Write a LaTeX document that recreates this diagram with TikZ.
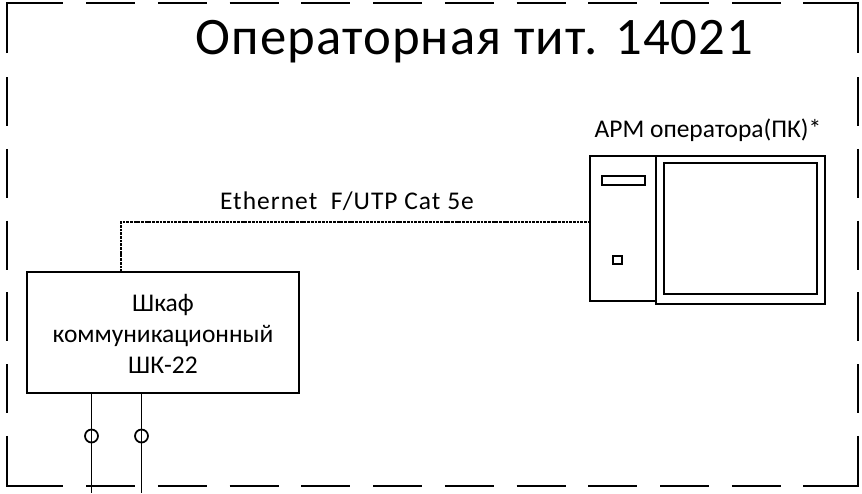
\documentclass[tikz,border=0pt]{standalone}
\usepackage{fontspec}
\setmainfont{Carlito}
\usepackage{xcolor}
\usetikzlibrary{positioning, calc}

\begin{document}
\begin{tikzpicture}[
    device/.style={rectangle, draw, line width=1pt, inner sep=0pt, align=center},
    label/.style={anchor=base, inner sep=0pt, font=\fontsize{14.5}{14.5}\selectfont},
    frameline/.style={line width=1pt},
    framedash/.style={line width=1pt, dash pattern=on 0.98cm off 0.455cm},
    cable/.style={line width=0.6pt, dash pattern=on 1.6pt off 0.5pt},
    wire/.style={line width=1pt}
]
\useasboundingbox (0, 0) rectangle (17.24, 9.86);

% room boundary
\coordinate (tl) at (0.14, 9.8);
\coordinate (tr) at (17.16, 9.8);
\coordinate (bl) at (0.14, 0.14);
\coordinate (br) at (17.16, 0.14);
\draw[frameline] (0.14, 8.8) -- (tl) -- (1.26, 9.8);
\draw[frameline] (16.06, 9.8) -- (tr) -- (17.16, 8.8);
\draw[frameline] (0.14, 1.14) -- (bl) -- (1.26, 0.14);
\draw[frameline] (16.06, 0.14) -- (br) -- (17.16, 1.14);
\draw[framedash] (1.72, 9.8) -- (16.06, 9.8);
\draw[framedash] (1.72, 0.14) -- (16.06, 0.14);
\draw[framedash] (0.14, 8.32) -- (0.14, 1.14);
\draw[framedash] (17.16, 8.32) -- (17.16, 1.14);

\node[anchor=base, inner sep=0pt, font=\fontsize{30}{30}\selectfont\addfontfeatures{LetterSpace=2}] (title) at (9.49, 8.78) {Операторная тит. 14021};

% cabinet
\node[device, minimum width=5.44cm, minimum height=2.42cm] (cabinet) at (3.26, 3.21) {};
\node[label] (cabinetA) at (3.26, 3.64) {Шкаф};
\node[label] (cabinetB) at (3.26, 3.02) {коммуникационный};
\node[label] (cabinetC) at (3.26, 2.4) {ШК-22};

% workstation
\node[device, line width=0.8pt, minimum width=1.32cm, minimum height=2.9cm] (tower) at (12.46, 5.29) {};
\node[device, minimum width=3.38cm, minimum height=2.96cm] (monitor) at (14.81, 5.26) {};
\node[device, minimum width=3.06cm, minimum height=2.62cm] (screen) at (14.81, 5.29) {};
\node[device, minimum width=0.86cm, minimum height=0.18cm] (slot) at (12.47, 6.25) {};
\node[device, minimum width=0.18cm, minimum height=0.16cm] (button) at (12.35, 4.66) {};
\node[label] (pclabel) at (14.16, 7.12) {АРМ оператора(ПК)*};

% ethernet
\coordinate (portA) at (2.42, 4.42);
\coordinate (portB) at (11.8, 5.42);
\draw[cable] (portA) |- (portB);
\node[label, font=\fontsize{14.5}{14.5}\selectfont\addfontfeatures{LetterSpace=4}] (netlabel) at (6.94, 5.68) {Ethernet\ \ F/UTP Cat 5e};

% outgoing wires
\coordinate (wireA) at (1.83, 2);
\coordinate (wireB) at (2.83, 2);
\coordinate (endA) at (1.83, 0);
\coordinate (endB) at (2.83, 0);
\draw[wire] (wireA) -- (endA);
\draw[wire] (wireB) -- (endB);
\node[circle, draw, line width=1pt, minimum size=0.26cm, inner sep=0pt] (ringA) at (1.83, 1.14) {};
\node[circle, draw, line width=1pt, minimum size=0.26cm, inner sep=0pt] (ringB) at (2.83, 1.14) {};

\end{tikzpicture}
\end{document}
